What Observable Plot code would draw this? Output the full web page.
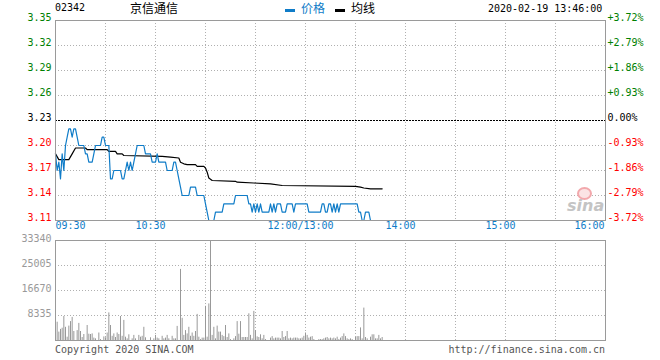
<!DOCTYPE html>
<html><head><meta charset="utf-8">
<script src="https://cdn.jsdelivr.net/npm/d3@7"></script>
<script src="https://cdn.jsdelivr.net/npm/@observablehq/plot@0.6"></script>
<style>
body{margin:0;background:#fff;}
#wrap{position:relative;width:660px;height:360px;overflow:hidden;font-family:"DejaVu Sans Mono",monospace;font-size:10px;background:#fff;}
.abs{position:absolute;white-space:nowrap;line-height:1;}
.cjk{font-family:"Noto Sans CJK SC",sans-serif;font-size:12px;}
#wrap svg{position:absolute;left:0;}
</style></head><body><div id="wrap"></div>
<script>
// ---- data ----
const code = "02342";
const name = "京信通信";
const stamp = "2020-02-19 13:46:00";
const prevClose = 3.23;
const priceTicks = [3.11, 3.14, 3.17, 3.20, 3.23, 3.26, 3.29, 3.32, 3.35];
const pctLabels = ["-3.72%", "-2.79%", "-1.86%", "-0.93%", "0.00%", "+0.93%", "+1.86%", "+2.79%", "+3.72%"];
const timeTicks = [0, 60, 150, 210, 270, 330];
const timeLabels = ["09:30", "10:30", "12:00/13:00", "14:00", "15:00", "16:00"];
const gridMinutes = [30, 60, 90, 120, 150, 180, 210, 240, 270, 300];
const volTicks = [8335, 16670, 25005, 33340];
const volMax = 33340;

// price per minute (09:30 .. 13:46)
const price = [
  3.19,3.17,3.18,3.16,3.19,3.17,3.20,3.21,3.22,3.22,
  3.21,3.22,3.22,3.21,3.20,3.20,3.20,3.20,3.19,3.19,
  3.18,3.18,3.18,3.19,3.20,3.20,3.20,3.20,3.21,3.21,
  3.20,3.20,3.20,3.16,3.16,3.17,3.17,3.17,3.17,3.17,
  3.16,3.16,3.17,3.18,3.17,3.18,3.17,3.18,3.19,3.20,
  3.20,3.20,3.20,3.20,3.19,3.19,3.19,3.19,3.18,3.18,
  3.18,3.19,3.18,3.18,3.18,3.18,3.18,3.17,3.17,3.17,
  3.17,3.18,3.18,3.17,3.16,3.15,3.14,3.14,3.14,3.14,
  3.14,3.15,3.15,3.15,3.15,3.14,3.14,3.14,3.14,3.14,
  3.13,3.12,3.11,3.11,3.11,3.11,3.12,3.12,3.12,3.12,
  3.12,3.13,3.13,3.13,3.13,3.13,3.13,3.13,3.14,3.14,
  3.14,3.14,3.14,3.14,3.14,3.14,3.13,3.13,3.12,3.13,
  3.12,3.13,3.12,3.13,3.12,3.12,3.12,3.12,3.12,3.13,
  3.12,3.13,3.12,3.13,3.13,3.13,3.12,3.12,3.12,3.13,
  3.13,3.13,3.13,3.12,3.13,3.13,3.13,3.13,3.13,3.13,
  3.13,3.13,3.12,3.12,3.12,3.12,3.12,3.12,3.12,3.12,
  3.13,3.13,3.12,3.12,3.13,3.13,3.12,3.13,3.12,3.13,
  3.12,3.13,3.13,3.13,3.13,3.13,3.13,3.13,3.13,3.13,
  3.13,3.13,3.12,3.12,3.11,3.11,3.12,3.12,3.12,3.11,
  3.11,3.11,3.11,3.11,3.11,3.11,3.11
];

// average line vertices
const avgMinutes = [0,2,8,10,12,18,19,31,32,36,37,40,41,64,69,74,75,77,79,84,85,89,90,91,92,94,108,109,119,129,136,180,183,185,189,196];
const avgValues  = [3.190,3.183,3.183,3.190,3.197,3.197,3.195,3.195,3.193,3.193,3.190,3.190,3.188,3.187,3.186,3.185,3.180,3.178,3.177,3.177,3.175,3.175,3.173,3.168,3.161,3.158,3.157,3.156,3.155,3.154,3.152,3.151,3.150,3.149,3.148,3.148];

// volume per minute
const volume = [
  0,6100,2800,3700,4100,8000,4400,1100,4800,6300,
  7700,3000,0,3300,5700,3000,1000,2000,0,5000,
  2100,2000,2200,800,550,0,2500,300,0,1200,
  900,2500,9200,5000,1400,2200,1000,2500,2000,8000,
  1400,6700,1100,550,1900,0,550,1700,550,0,
  1700,1100,1400,4400,900,0,0,900,0,550,
  1700,800,550,0,1400,550,800,1700,550,0,
  1400,550,550,4700,0,23700,7400,1700,3300,2200,
  4400,1400,2500,1400,3000,8700,1100,300,800,800,
  11400,1100,12200,33340,1700,4400,550,4800,2800,2800,
  1700,1300,5000,1000,2200,300,0,550,1300,6300,
  2100,6300,1000,1000,1000,1000,8900,1700,550,9700,
  3300,1200,1000,1900,550,1700,300,0,0,800,
  1300,550,800,800,800,550,3000,1000,1300,3000,
  550,800,550,800,800,800,550,550,800,1400,
  2500,1700,800,1100,1300,300,0,0,300,300,
  300,550,800,1000,550,800,550,800,550,1100,
  300,800,1300,2200,1300,550,300,550,300,0,
  1000,1300,1300,4200,550,10800,1000,550,0,1100,
  1900,1900,550,550,1700,550,1000
];

// ---- styles ----
const BLUE = "#0f7cc8";
const GRID = "#b0b0b0";
const FRAME = "#9a9a9a";
const font = {fontFamily: "'DejaVu Sans Mono', monospace", fontSize: "10px", background: "transparent", overflow: "visible"};
const tickColor = v => Math.abs(v - prevClose) < 1e-6 ? "#000000" : (v > prevClose ? "#008000" : "#ff0000");

const wrap = document.getElementById("wrap");

// ---- price panel ----
const pricePlot = Plot.plot({
  width: 660, height: 235,
  marginLeft: 55, marginRight: 55, marginTop: 20, marginBottom: 15,
  style: font,
  color: {type: "identity"},
  x: {domain: [0, 330], axis: null},
  y: {domain: [priceTicks[0], priceTicks[priceTicks.length - 1]], axis: null},
  marks: [
    Plot.ruleX(gridMinutes, {x: d => d, stroke: GRID, strokeDasharray: "1,2"}),
    Plot.ruleY(priceTicks, {y: d => d, stroke: GRID, strokeDasharray: "1,2", filter: d => Math.abs(d - prevClose) > 1e-6}),
    Plot.ruleY([prevClose], {y: d => d, stroke: "#000", strokeDasharray: "2,1"}),
    Plot.line(avgMinutes, {x: d => d, y: (d, i) => avgValues[i], stroke: "#000", strokeWidth: 1.2}),
    Plot.line(price, {x: (d, i) => i, y: d => d, stroke: BLUE, strokeWidth: 1.2}),
    Plot.frame({stroke: FRAME}),
    Plot.text(priceTicks, {y: d => d, text: d => d.toFixed(2), frameAnchor: "left", textAnchor: "end", dx: -4, dy: -2.5, fill: tickColor}),
    Plot.text(priceTicks, {y: d => d, text: (d, i) => pctLabels[i], frameAnchor: "right", textAnchor: "start", dx: 2, dy: -2.5, fill: tickColor}),
    Plot.text(timeTicks, {x: d => d, text: (d, i) => timeLabels[i], filter: (d, i) => i === 0, frameAnchor: "bottom", textAnchor: "start", dy: 8, fill: BLUE}),
    Plot.text(timeTicks, {x: d => d, text: (d, i) => timeLabels[i], filter: (d, i) => i > 0 && i < timeTicks.length - 1, frameAnchor: "bottom", textAnchor: "middle", dx: -5, dy: 8, fill: BLUE}),
    Plot.text(timeTicks, {x: d => d, text: (d, i) => timeLabels[i], filter: (d, i) => i === timeTicks.length - 1, frameAnchor: "bottom", textAnchor: "end", dx: -1, dy: 8, fill: BLUE})
  ]
});
pricePlot.style.top = "0px";
wrap.appendChild(pricePlot);

// ---- volume panel ----
const volPlot = Plot.plot({
  width: 660, height: 115,
  marginLeft: 55, marginRight: 55, marginTop: 10, marginBottom: 5,
  style: font,
  x: {domain: [0, 330], axis: null},
  y: {domain: [0, volMax], axis: null},
  marks: [
    Plot.ruleX(gridMinutes, {x: d => d, stroke: GRID, strokeDasharray: "1,2"}),
    Plot.ruleY(volTicks, {y: d => d, stroke: GRID, strokeDasharray: "1,2", filter: d => d < volMax}),
    Plot.ruleX(volume, {x: (d, i) => i, y1: 0, y2: d => d, stroke: "#999", filter: d => d > 0}),
    Plot.frame({stroke: FRAME}),
    Plot.text(volTicks, {y: d => d, text: d => String(d), frameAnchor: "left", textAnchor: "end", dx: -4, dy: -2, fill: "#999"})
  ]
});
volPlot.style.top = "230px";
wrap.appendChild(volPlot);

// ---- header / footer / watermark ----
function add(html, css, cls) {
  const el = document.createElement("div");
  el.className = "abs " + (cls || "");
  el.innerHTML = html;
  Object.assign(el.style, css);
  wrap.appendChild(el);
  return el;
}
add(code, {left: "55px", top: "3px", color: "#000"});
add(name, {left: "130px", top: "2px", color: "#000"}, "cjk");
add("", {left: "285px", top: "9px", width: "10px", height: "3px", background: BLUE});
add("价格", {left: "301px", top: "2px", color: BLUE}, "cjk");
add("", {left: "335px", top: "9px", width: "10px", height: "3px", background: "#000"});
add("均线", {left: "351px", top: "2px", color: "#000"}, "cjk");
add(stamp, {left: "488px", top: "4px", color: "#000"});
add("Copyright 2020 SINA.COM", {left: "55px", top: "345px", color: "#555"});
add("http://finance.sina.com.cn", {right: "55px", top: "345px", color: "#555"});
// sina watermark
add("", {left: "577px", top: "187px", width: "11px", height: "9px", border: "2px solid #f2a8ac", borderRadius: "50%", background: "#fbe3e4"});
add("sina", {left: "567px", top: "198px", color: "#c4c4c4", fontFamily: "'DejaVu Sans', sans-serif", fontSize: "16px", fontStyle: "italic", fontWeight: "bold"});
</script></body></html>
